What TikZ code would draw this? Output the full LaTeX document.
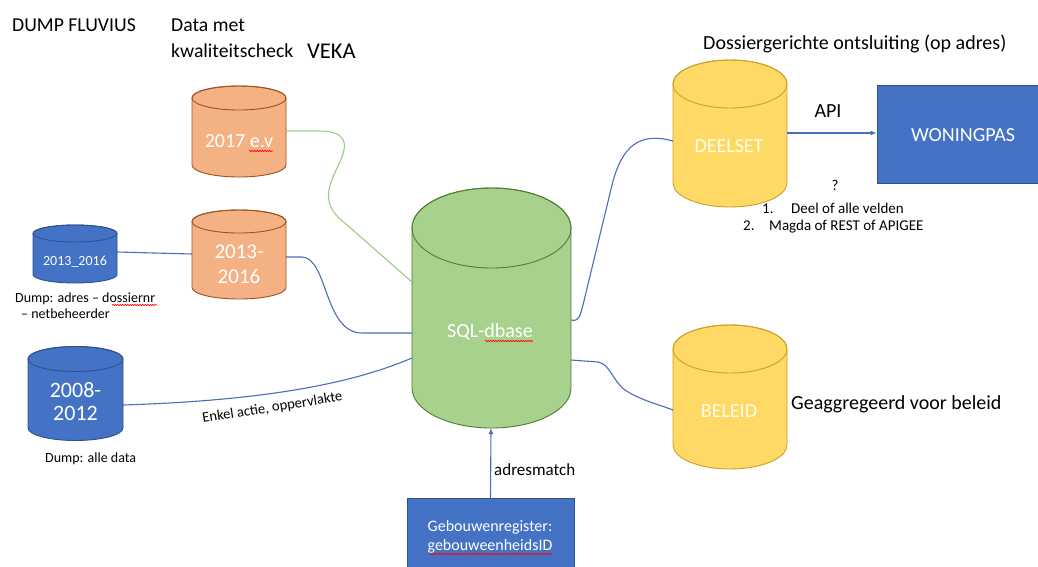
\documentclass[tikz,border=0pt]{standalone}
\usepackage{fontspec}
\setmainfont{Carlito}
\usetikzlibrary{arrows.meta,decorations.pathmorphing}
\definecolor{ofill}{HTML}{F4B183}
\definecolor{oline}{HTML}{A0521E}
\definecolor{bfill}{HTML}{4472C4}
\definecolor{bline}{HTML}{2F528F}
\definecolor{gfill}{HTML}{A9D18E}
\definecolor{gline}{HTML}{507E32}
\definecolor{yfill}{HTML}{FFD966}
\definecolor{yline}{HTML}{C9A227}
\definecolor{connc}{HTML}{4A6EB8}
\definecolor{gconnc}{HTML}{9DCB84}
\newcommand\fs[1]{\fontsize{#1}{#1}\selectfont}
\newcommand\mycyl[7]{%
  \filldraw[fill=#6,draw=#7,line width=0.9pt] (#1-#4,#2) -- (#1-#4,#3)
    arc[start angle=180,end angle=0,x radius=#4,y radius=#5] -- (#1+#4,#2)
    arc[start angle=0,end angle=-180,x radius=#4,y radius=#5] -- cycle;
  \draw[draw=#7,line width=0.9pt] (#1,#2) ellipse[x radius=#4,y radius=#5];
}
\tikzset{
  lbl/.style={inner sep=0pt, anchor=base west, text=black},
  lblc/.style={inner sep=0pt, anchor=base, text=black},
  wlbl/.style={inner sep=0pt, anchor=base, text=white},
  conn/.style={draw=connc, line width=1.1pt},
  gconn/.style={draw=gconnc, line width=1.1pt},
  arr/.style={conn, -{Latex[length=6pt,width=5pt]}},
  spell/.style={draw=red, line width=0.6pt, decorate, decoration={snake, segment length=2.5pt, amplitude=0.7pt}},
  boxfill/.style={fill=bfill, draw=bline, line width=0.8pt},
}
\begin{document}
\begin{tikzpicture}[x=1pt,y=-1pt]
\useasboundingbox (0,0) rectangle (1038,566);
\fill[white] (0,0) rectangle (1038,566);

% ---- cylinders
\mycyl{239}{98}{165}{47}{12}{ofill}{oline}
\mycyl{239}{221.5}{287.5}{47}{11.5}{ofill}{oline}
\mycyl{75}{233.5}{274.5}{42}{8.5}{bfill}{bline}
\mycyl{75.5}{359}{428}{47.5}{12.5}{bfill}{bline}
\mycyl{491.5}{228}{388}{79.5}{40}{gfill}{gline}
\mycyl{730}{84}{183}{57}{24}{yfill}{yline}
\mycyl{730}{349}{445}{57}{24}{yfill}{yline}

% ---- boxes
\node[boxfill, minimum width=172pt, minimum height=98pt, inner sep=0pt] (won) at (963,134) {};
\node[wlbl, font=\fs{20}] (wontxt) at (963,141) {WONINGPAS};
\node[boxfill, minimum width=167pt, minimum height=90pt, inner sep=0pt, anchor=north] (geb) at (490.5,498) {};
\node[wlbl, font=\fs{16}] (gebA) at (490,531) {Gebouwenregister:};
\node[wlbl, font=\fs{16}] (gebB) at (490,550) {gebouweenheidsID};

% ---- cylinder labels
\node[wlbl, font=\fs{20}] (t2017) at (239,147) {2017 e.v};
\node[wlbl, font=\fs{21}] (t1316a) at (239,258) {2013-};
\node[wlbl, font=\fs{21}] (t1316b) at (239,283) {2016};
\node[wlbl, font=\fs{14}] (tdump) at (75,265) {2013\_2016};
\node[wlbl, font=\fs{22}] (t0812a) at (75.5,397) {2008-};
\node[wlbl, font=\fs{22}] (t0812b) at (75.5,420) {2012};
\node[wlbl, font=\fs{20}] (tsql) at (490,337) {SQL-dbase};
\node[wlbl, font=\fs{20}, text=white!92!yellow] (tdeel) at (729,152) {DEELSET};
\node[wlbl, font=\fs{20}, text=white!92!yellow] (tbel) at (729,417) {BELEID};

% ---- spell-check underlines
\draw[spell] (249,151) -- (273,151);
\draw[spell] (112,305) -- (157,305);
\draw[spell] (485,341) -- (533,341);
\draw[spell] (429,554) -- (552,554);

% ---- free labels
\node[lbl, font=\fs{19.7}] (dumpfl) at (12,31) {DUMP FLUVIUS};
\node[lbl, font=\fs{19.7}] (datamet) at (171,31) {Data met};
\node[lbl, font=\fs{19.7}] (kwal) at (171,57) {kwaliteitscheck};
\node[lbl, font=\fs{22.5}] (veka) at (307,58) {VEKA};
\node[lbl, font=\fs{14}] (cap1) at (15,302) {Dump: adres – dossiernr};
\node[lbl, font=\fs{14}] (cap2) at (21,318) {– netbeheerder};
\node[lbl, font=\fs{14}] (cap3) at (45,462) {Dump: alle data};
\node[lbl, font=\fs{20}] (doss) at (703,49) {Dossiergerichte ontsluiting (op adres)};
\node[lblc, font=\fs{20}] (api) at (828,117) {API};
\node[lblc, font=\fs{15}] (qm) at (835,190) {?};
\node[lbl, font=\fs{15}] (n1) at (762,213) {1.};
\node[lbl, font=\fs{15}] (l1) at (791,213) {Deel of alle velden};
\node[lbl, font=\fs{15}] (n2) at (743,230) {2.};
\node[lbl, font=\fs{15}] (l2) at (769,230) {Magda of REST of APIGEE};
\node[lbl, font=\fs{20}] (geagg) at (791,409) {Geaggregeerd voor beleid};
\node[lbl, font=\fs{17}] (adrm) at (494,475) {adresmatch};
\node[lbl, font=\fs{14.6}, rotate=9] (enkel) at (203,423) {Enkel actie, oppervlakte};

% ---- connection points
\coordinate (c17R) at (286,131);
\coordinate (c1316R) at (286,257);
\coordinate (c1316L) at (192,254);
\coordinate (cdumpR) at (117,252);
\coordinate (c0812R) at (123,405);
\coordinate (sqlL1) at (412,282);
\coordinate (sqlL2) at (412,333);
\coordinate (sqlL3) at (412,358);
\coordinate (sqlR1) at (571,320);
\coordinate (sqlR2) at (571,360);
\coordinate (sqlB) at (491,428);
\coordinate (deelL) at (673,141);
\coordinate (deelR) at (787,133);
\coordinate (belL) at (673,410);

% ---- connectors
\draw[gconn] (c17R) -- (318,131) .. controls (346,131) and (350,142) .. (338,166)
  .. controls (326,190) and (322,206) .. (346,224) -- (sqlL1);
\draw[conn] (cdumpR) -- (c1316L);
\draw[conn] (c1316R) -- (302,257) .. controls (328,258) and (324,333) .. (362,333) -- (sqlL2);
\draw[conn] (c0812R) .. controls (280,400) and (360,380) .. (sqlL3);
\draw[conn] (sqlR1) .. controls (579,322) and (580,316) .. (583,305) -- (612,185)
  .. controls (622,145) and (640,132) .. (deelL);
\draw[conn] (sqlR2) -- (598,362) .. controls (610,364) and (612,380) .. (625,390)
  .. controls (640,400) and (660,405) .. (belL);
\draw[arr] (deelR) -- (won.west |- deelR);
\draw[arr] (geb.north) -- (sqlB);
\end{tikzpicture}
\end{document}
